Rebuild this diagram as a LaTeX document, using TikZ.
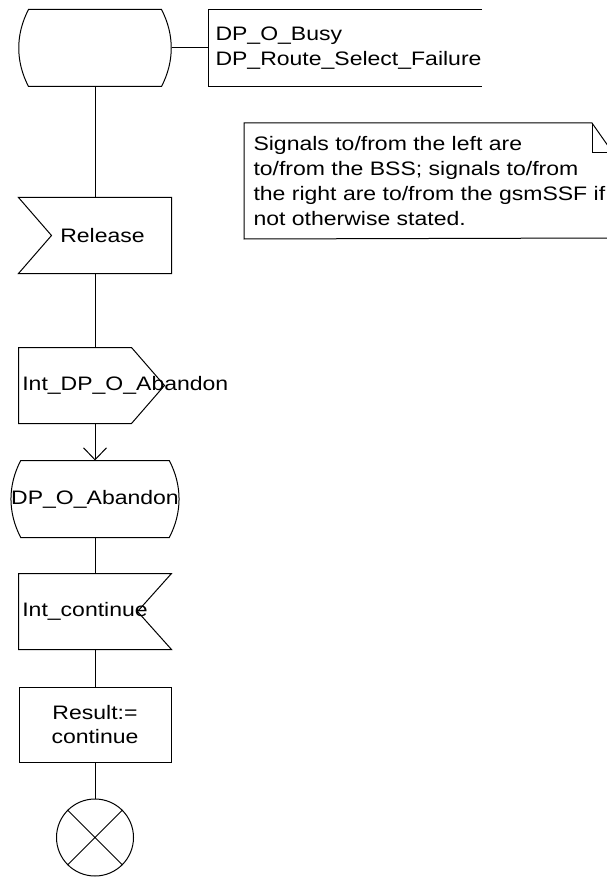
\documentclass[tikz,border=0pt]{standalone}
\usepackage{fontspec}
\setmainfont{Liberation Sans}[FakeStretch=1.18]
\usetikzlibrary{arrows.meta}
\tikzset{
  sym/.style={minimum width=152pt, minimum height=75pt, inner sep=0pt}
}
\newcommand{\statesym}[1]{\draw ([xshift=10pt]#1.north west) -- ([xshift=-10pt]#1.north east) .. controls +(13,25) and +(13,-25) .. ([xshift=-10pt]#1.south east) -- ([xshift=10pt]#1.south west) .. controls +(-13,-25) and +(-13,25) .. ([xshift=10pt]#1.north west) -- cycle;}
\newcommand{\insym}[1]{\draw (#1.north west) -- (#1.north east) -- (#1.south east) -- (#1.south west) -- ([xshift=33pt]#1.west) -- cycle;}
\newcommand{\outsym}[1]{\draw (#1.north west) -- ([xshift=113pt]#1.north west) -- ([xshift=146pt]#1.west) -- ([xshift=113pt]#1.south west) -- (#1.south west) -- cycle;}
\newcommand{\rinsym}[1]{\draw (#1.north west) -- (#1.north east) -- ([xshift=-34pt]#1.east) -- (#1.south east) -- (#1.south west) -- cycle;}
\begin{document}
\begin{tikzpicture}[x=1pt, y=-1pt, line width=1pt, font=\fontsize{19.5}{24.7}\selectfont]
    \useasboundingbox (0,0) rectangle (606,877);
    \node[sym, minimum height=76pt] (busy) at (95,48) {};
    \statesym{busy}
    \node[anchor=west, align=left, inner xsep=7pt, minimum height=76pt] (dp) at (208,48) {DP\_O\_Busy\\DP\_Route\_Select\_Failure};
    \draw ([xshift=274pt]dp.north west) -- (dp.north west) -- (dp.south west) -- ([xshift=274pt]dp.south west);
    \node[anchor=north west, align=left, inner xsep=9pt, minimum height=115pt] (note) at (244,123) {Signals to/from the left are\\to/from the BSS; signals to/from\\the right are to/from the gsmSSF if\\not otherwise stated.};
    \draw (note.north west) -- ++(348,0) -- ++(21,30) -- ++(0,85) -- (note.south west) -- cycle;
    \draw ([xshift=348pt]note.north west) -- ++(0,30) -- ++(21,0);
    \node[sym] (rel) at (95,235.5) {};
    \insym{rel}
    \node[anchor=west] (relt) at ([xshift=38pt]rel.west) {Release};
    \node[sym] (intab) at (95,385.5) {};
    \outsym{intab}
    \node[anchor=west] (intabt) at (intab.west) {Int\_DP\_O\_Abandon};
    \node[sym, minimum height=76pt] (dpab) at (95,499) {DP\_O\_Abandon};
    \statesym{dpab}
    \node[sym] (ic) at (95,611.5) {};
    \rinsym{ic}
    \node[anchor=west] (ict) at (ic.west) {Int\_continue};
    \node[sym, draw, align=center] (res) at (95,724.5) {Result:=\\continue};
    \node[circle, draw, minimum size=77pt, inner sep=0pt] (stop) at (95,837.5) {};
    \draw (stop.north west) -- (stop.south east) (stop.north east) -- (stop.south west);
    \draw (busy) -- (dp);
    \foreach \a/\b in {busy/rel, rel/intab, dpab/ic, ic/res, res/stop}
        \draw (\a) -- (\b);
    \draw[-{Straight Barb[length=12pt, width=23pt]}] (intab) -- (dpab);
\end{tikzpicture}
\end{document}
